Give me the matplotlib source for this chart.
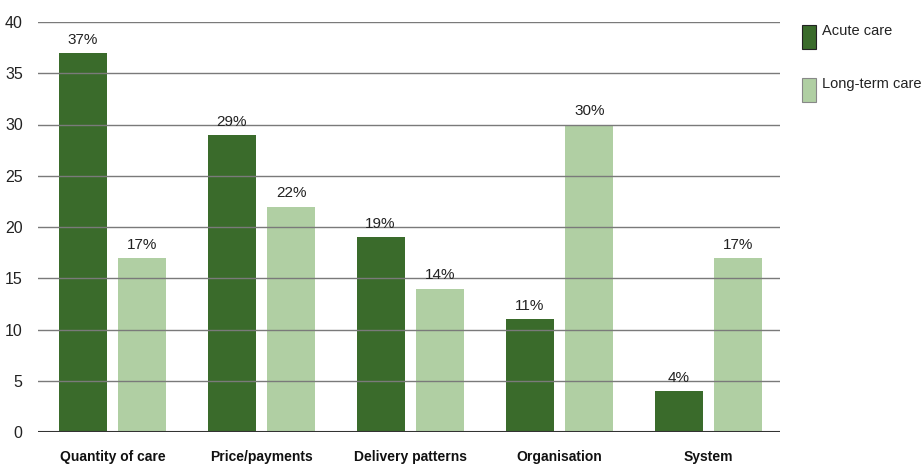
import matplotlib.pyplot as plt
import matplotlib.patches as mpatches
import numpy as np
from matplotlib import font_manager

# pick a narrow sans if one is around
names = {f.name for f in font_manager.fontManager.ttflist}
family = ['Liberation Sans Narrow', 'Liberation Sans', 'DejaVu Sans']
family = [f for f in family if f in names] or ['DejaVu Sans']
plt.rcParams['font.family'] = family

categories = ["Quantity of care", "Price/payments", "Delivery patterns", "Organisation", "System"]
acute = [37, 29, 19, 11, 4]
long_term = [17, 22, 14, 30, 17]
series_names = ["Acute care", "Long-term care"]

dark = "#3a6b2b"
light = "#b0cfa3"

fig = plt.figure(figsize=(9.22, 4.66), dpi=100)
ax = fig.add_axes([38/922, 34/466, (780-38)/922, (432-22)/466])

x = np.arange(len(categories))
w = 0.322
off = 0.201
b1 = ax.bar(x - off, acute, w, color=dark, zorder=1)
b2 = ax.bar(x + off, long_term, w, color=light, zorder=1)

for bars, vals in ((b1, acute), (b2, long_term)):
    for b, v in zip(bars, vals):
        ax.text(b.get_x() + b.get_width()/2, v + 0.6, f"{v}%",
                ha='center', va='bottom', fontsize=11, color='#222222')

ax.set_ylim(0, 40)
ax.set_xlim(-0.5, 4.48)
ax.set_yticks(range(0, 41, 5))
for y in range(5, 41, 5):
    ax.axhline(y, color='#7a7a7a', lw=1, zorder=2)
ax.axhline(0, color='#333333', lw=1.5, zorder=2)

for s in ax.spines.values():
    s.set_visible(False)
ax.tick_params(axis='y', length=0, pad=11, labelsize=11.5, labelcolor='#222222')
ax.tick_params(axis='x', length=0, pad=13)
ax.set_xticks(x)
ax.set_xticklabels(categories, fontsize=10, fontweight='bold', color='#111111')

# legend on the right
for i, (name, c) in enumerate(zip(series_names, [dark, light])):
    top = 25 + i * 53
    fig.patches.append(mpatches.Rectangle((802/922, 1 - (top + 24)/466), 14/922, 24/466,
                                          transform=fig.transFigure, facecolor=c,
                                          edgecolor='#222222' if i == 0 else '#888888', lw=0.8))
    fig.text(822/922, 1 - (top + 6)/466, name, fontsize=10.5, color='#222222', va='center', ha='left')

fig.savefig("out.png", dpi=100)
